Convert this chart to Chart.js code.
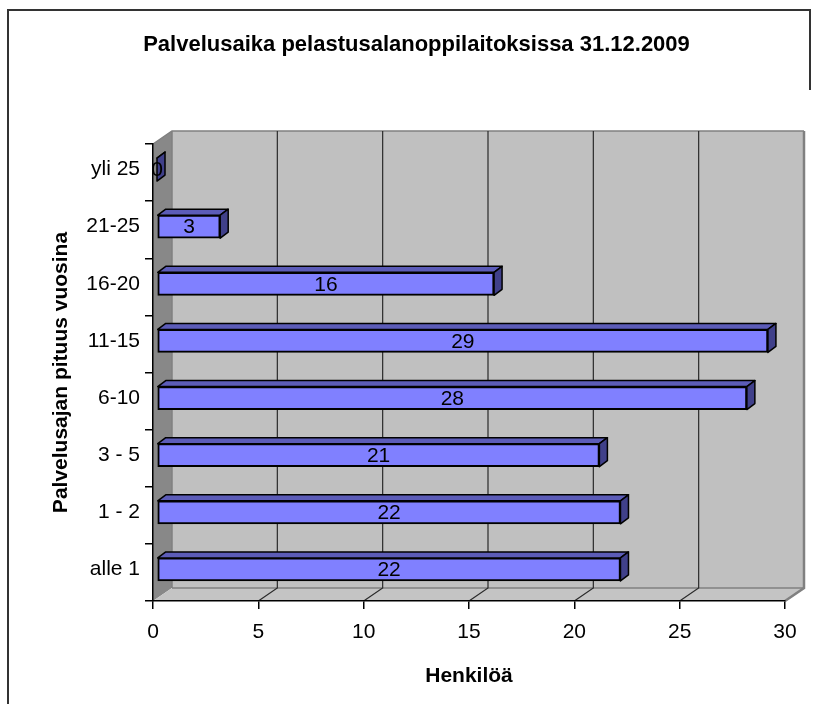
<!DOCTYPE html>
<html>
<head>
<meta charset="utf-8">
<script src="https://cdn.jsdelivr.net/npm/chart.js@4"></script>
<style>body{margin:0;background:#fff}</style>
</head>
<body>
<canvas id="grafica" width="813" height="704"></canvas>
<script>
var categorias = ['yli 25', '21-25', '16-20', '11-15', '6-10', '3 - 5', '1 - 2', 'alle 1'];
var henkiloa = [0, 3, 16, 29, 28, 21, 22, 22];
var xTicks = [0, 5, 10, 15, 20, 25, 30];

var fuente = '"Liberation Sans", Arial, sans-serif';
var DX = 19, DY = -13;      // syvyys seinille
var BDX = 8, BDY = -6;      // syvyys pylväille
var SX = 4, SY = -3;        // pylväiden siirto

function poly(ctx, pts, fill, stroke, lw) {
  ctx.beginPath();
  ctx.moveTo(pts[0][0], pts[0][1]);
  for (var i = 1; i < pts.length; i++) ctx.lineTo(pts[i][0], pts[i][1]);
  ctx.closePath();
  if (fill) { ctx.fillStyle = fill; ctx.fill(); }
  if (stroke) { ctx.strokeStyle = stroke; ctx.lineWidth = lw || 1; ctx.stroke(); }
}

var kolmiD = {
  id: 'kolmiD',
  beforeDraw: function (chart) {
    var ctx = chart.ctx, a = chart.chartArea, xs = chart.scales.x;
    ctx.save();
    // kehys
    ctx.strokeStyle = '#333';
    ctx.lineWidth = 2;
    ctx.beginPath();
    ctx.moveTo(8, 704); ctx.lineTo(8, 10); ctx.lineTo(810, 10); ctx.lineTo(810, 90);
    ctx.stroke();
    // takaseinä
    ctx.fillStyle = '#c0c0c0';
    ctx.fillRect(a.left + DX, a.top + DY, a.right - a.left, a.bottom - a.top);
    // vasen seinä
    poly(ctx, [[a.left, a.top], [a.left + DX, a.top + DY], [a.left + DX, a.bottom + DY], [a.left, a.bottom]], '#888888');
    // lattia
    poly(ctx, [[a.left, a.bottom], [a.right, a.bottom], [a.right + DX, a.bottom + DY], [a.left + DX, a.bottom + DY]], '#c4c4c4');
    // reunat
    ctx.strokeStyle = '#808080';
    ctx.lineWidth = 1.5;
    ctx.beginPath();
    ctx.moveTo(a.left, a.top); ctx.lineTo(a.left + DX, a.top + DY); ctx.lineTo(a.right + DX, a.top + DY);
    ctx.moveTo(a.left + DX, a.bottom + DY); ctx.lineTo(a.right + DX, a.bottom + DY);
    ctx.moveTo(a.left + DX, a.top + DY); ctx.lineTo(a.left + DX, a.bottom + DY);
    ctx.stroke();
    ctx.lineWidth = 2.5;
    ctx.beginPath();
    ctx.moveTo(a.right + DX, a.top + DY); ctx.lineTo(a.right + DX, a.bottom + DY); ctx.lineTo(a.right, a.bottom);
    ctx.stroke();
    // ruudukko
    ctx.strokeStyle = '#2a2a2a';
    ctx.lineWidth = 1.2;
    xTicks.forEach(function (v) {
      if (v === xTicks[0] || v === xTicks[xTicks.length - 1]) return;
      var px = xs.getPixelForValue(v);
      ctx.beginPath();
      ctx.moveTo(px + DX, a.top + DY);
      ctx.lineTo(px + DX, a.bottom + DY);
      ctx.lineTo(px, a.bottom);
      ctx.stroke();
    });
    ctx.restore();
  },
  beforeDatasetsDraw: function (chart) {
    chart.ctx.save();
    chart.ctx.translate(SX, SY);
  },
  afterDatasetsDraw: function (chart) {
    var ctx = chart.ctx;
    var meta = chart.getDatasetMeta(0);
    meta.data.forEach(function (el, i) {
      var p = el.getProps(['x', 'y', 'base', 'height'], true);
      var t = p.y - p.height / 2, b = p.y + p.height / 2;
      var x0 = p.base, x1 = p.x;
      ctx.lineJoin = 'round';
      poly(ctx, [[x0, t], [x1, t], [x1 + BDX, t + BDY], [x0 + BDX, t + BDY]], '#5c5cb8', '#000', 1.5);
      poly(ctx, [[x1, t], [x1 + BDX, t + BDY], [x1 + BDX, b + BDY], [x1, b]], '#40408a', '#000', 1.5);
      ctx.fillStyle = '#000';
      ctx.font = '21px ' + fuente;
      ctx.textAlign = 'center';
      ctx.textBaseline = 'middle';
      ctx.fillText(String(henkiloa[i]), (x0 + x1) / 2, p.y + 1);
    });
    ctx.restore();
  }
};

var miCanvas = document.getElementById('grafica').getContext('2d');
var chart = new Chart(miCanvas, {
  type: 'bar',
  plugins: [kolmiD],
  data: {
    labels: categorias,
    datasets: [{
      label: 'Henkilöä',
      data: henkiloa,
      backgroundColor: '#8080ff',
      borderColor: '#000',
      borderWidth: 2,
      borderSkipped: false,
      barThickness: 23,
      clip: false
    }]
  },
  options: {
    indexAxis: 'y',
    responsive: false,
    animation: false,
    layout: { padding: { left: 48, right: 28, top: 0, bottom: 0 } },
    plugins: {
      legend: { display: false },
      tooltip: { enabled: false },
      title: {
        display: true,
        text: 'Palvelusaika pelastusalanoppilaitoksissa 31.12.2009',
        color: '#000',
        font: { family: fuente, size: 22, weight: 'bold' },
        padding: { top: 32, bottom: 85.6 }
      }
    },
    scales: {
      x: {
        min: 0,
        max: 30,
        afterBuildTicks: function (s) { s.ticks = xTicks.map(function (v) { return { value: v }; }); },
        afterFit: function (s) { s.height = 103; },
        grid: { drawOnChartArea: false, color: '#000', tickLength: 8, lineWidth: 1.5 },
        border: { color: '#000', width: 1.5 },
        ticks: { color: '#000', font: { family: fuente, size: 21 }, padding: 11, maxRotation: 0 },
        title: {
          display: true,
          text: 'Henkilöä',
          color: '#000',
          font: { family: fuente, size: 21, weight: 'bold' },
          padding: { top: 0, bottom: 15 }
        }
      },
      y: {
        afterFit: function (s) { s.width = 105; },
        grid: { drawOnChartArea: false, color: '#000', tickLength: 8, lineWidth: 1.5, offset: true },
        border: { color: '#000', width: 1.5 },
        ticks: { color: '#000', font: { family: fuente, size: 21 }, padding: 5, labelOffset: -3 },
        title: {
          display: true,
          text: 'Palvelusajan pituus vuosina',
          color: '#000',
          font: { family: fuente, size: 21, weight: 'bold' },
          padding: { top: 1, bottom: 0 }
        }
      }
    }
  }
});
</script>
</body>
</html>
